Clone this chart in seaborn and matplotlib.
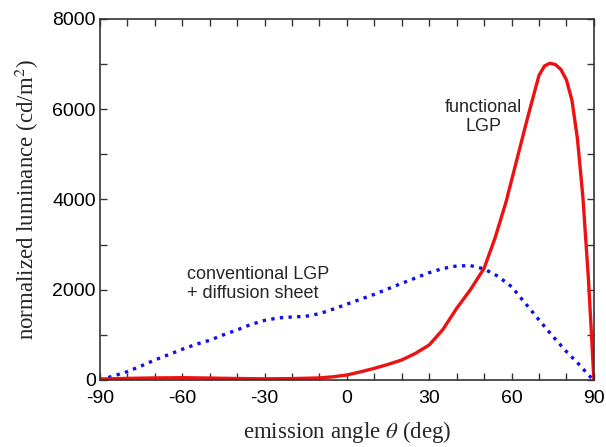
import matplotlib
matplotlib.use("Agg")
import matplotlib.pyplot as plt
from matplotlib.ticker import MultipleLocator
import seaborn as sns
import pandas as pd

# Angular luminance profiles (cd/m^2) versus emission angle (deg)
functional_angle = [-90, -80, -70, -60, -50, -40, -30, -20, -10, -5, 0, 5, 10, 15, 20, 25, 30,
                    35, 40, 45, 50, 54, 58, 62, 66, 68, 70, 72, 74, 76, 78, 80, 82, 84, 86,
                    87, 88, 89, 90]
functional_lum = [20, 35, 45, 50, 42, 32, 25, 30, 45, 70, 110, 180, 258, 345, 443, 590, 776,
                  1120, 1588, 2000, 2475, 3150, 3950, 4900, 5850, 6300, 6750, 6960, 7020,
                  6990, 6880, 6650, 6200, 5350, 4050, 3150, 2250, 1150, 0]

conventional_angle = [-90, -85, -80, -75, -70, -65, -60, -55, -50, -45, -40, -35, -30, -25,
                      -20, -15, -10, -5, 0, 5, 10, 15, 20, 25, 30, 35, 40, 45, 50, 55, 60,
                      65, 70, 75, 80, 85, 88, 90]
conventional_lum = [0, 90, 185, 310, 443, 560, 680, 790, 880, 1000, 1110, 1230, 1320, 1375,
                    1395, 1410, 1470, 1570, 1680, 1790, 1898, 2020, 2142, 2260, 2378, 2470,
                    2526, 2535, 2460, 2300, 2068, 1700, 1330, 970, 628, 320, 110, 0]

x_ticks = [-90, -60, -30, 0, 30, 60, 90]
y_ticks = [0, 2000, 4000, 6000, 8000]

sns.set_theme(style="ticks")
plt.rcParams["font.family"] = ["Liberation Sans", "DejaVu Sans"]
plt.rcParams["axes.unicode_minus"] = False
plt.rcParams["mathtext.fontset"] = "stix"

fig = plt.figure(figsize=(6.06, 4.47), dpi=100)
ax = fig.add_axes([0.165, 0.150, 0.815, 0.8075])

df_f = pd.DataFrame({"angle": functional_angle, "lum": functional_lum})
df_c = pd.DataFrame({"angle": conventional_angle, "lum": conventional_lum})

sns.lineplot(data=df_c, x="angle", y="lum", ax=ax, color="#1010e8", lw=2.4,
             linestyle=(0, (1, 1.6)), estimator=None, sort=False)
sns.lineplot(data=df_f, x="angle", y="lum", ax=ax, color="#ee1111", lw=2.4,
             estimator=None, sort=False)

ax.set_xlim(-90, 90)
ax.set_ylim(0, 8000)
ax.set_xticks(x_ticks)
ax.set_yticks(y_ticks)
ax.xaxis.set_minor_locator(MultipleLocator(10))
ax.yaxis.set_minor_locator(MultipleLocator(1000))
ax.tick_params(which="both", direction="in", top=True, right=True, length=5,
               width=1.0, color="#333333", labelsize=14, labelcolor="black", pad=3)
ax.tick_params(axis="x", pad=7)
for s in ax.spines.values():
    s.set_color("#333333")
    s.set_linewidth(1.2)

serif = ["Liberation Serif", "DejaVu Serif"]
ax.set_xlabel(r"emission angle $\theta$ (deg)", fontsize=16.5, family=serif, labelpad=9)
ax.set_ylabel(r"normalized luminance (cd/m$^{2}$)", fontsize=16.5, family=serif, labelpad=8)

ax.text(-58.3, 2130, "conventional LGP\n+ diffusion sheet", fontsize=13, ha="left",
        va="center", linespacing=1.2)
ax.text(49.6, 5830, "functional\nLGP", fontsize=13, ha="center", va="center",
        linespacing=1.2)

fig.savefig("out.png", dpi=100)
